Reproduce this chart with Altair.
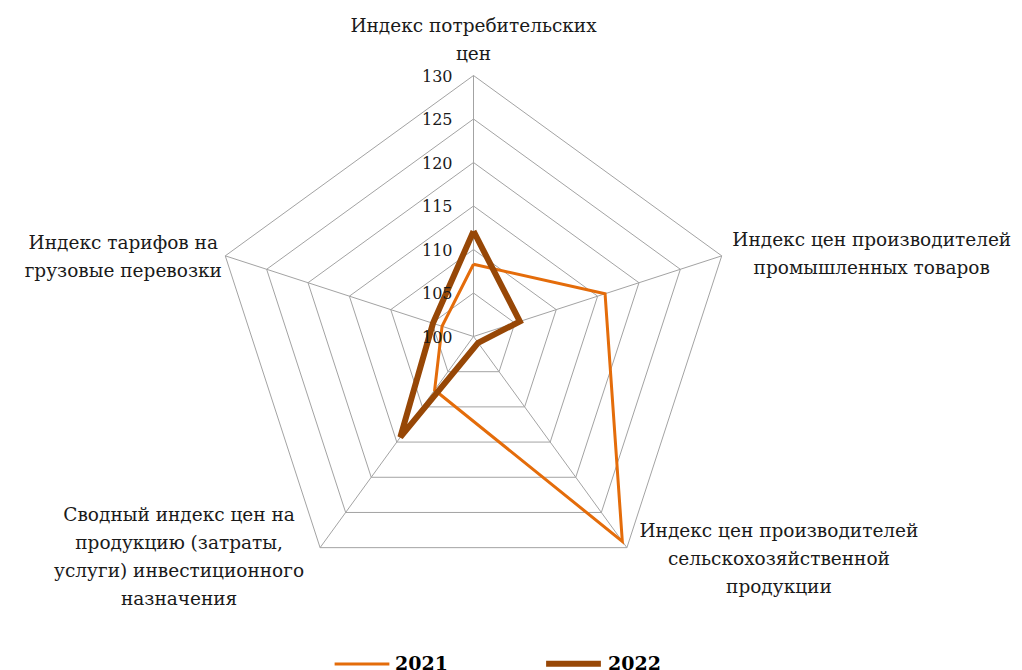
import altair as alt
import pandas as pd

# ---- data ----
categories = [
    "Индекс потребительских\nцен",
    "Индекс цен производителей\nпромышленных товаров",
    "Индекс цен производителей\nсельскохозяйственной\nпродукции",
    "Сводный индекс цен на\nпродукцию (затраты,\nуслуги) инвестиционного\nназначения",
    "Индекс тарифов на\nгрузовые перевозки",
]
years = ["2021", "2022"]
values_2021 = [108.3, 115.9, 129.1, 107.6, 103.8]
values_2022 = [112.1, 105.6, 100.9, 114.3, 104.9]
tick_levels = [100, 105, 110, 115, 120, 125, 130]

BASE = 100
TOP = 130
N = len(categories)

# ---- styling ----
ORANGE = "#E46C0A"
BROWN = "#974706"
GRID = "#A3A3A3"
TEXT = "#1A1A1A"
FONT = "DejaVu Serif"
# label offsets (px) from each outer vertex to the first line of each label
label_dx = [0, 150, 152, -141, -102]
label_dy = [-50, -16, -17, -33, -13]

W, H = 1006, 662
PX = 8.7  # pixels per index unit
CX, CY = 465.5, 328.5
xscale = alt.Scale(domain=[-CX / PX, (W - CX) / PX], nice=False, zero=False)
yscale = alt.Scale(domain=[-(H - CY) / PX, CY / PX], nice=False, zero=False)

ang = "datum.idx * 2 * PI / %d" % N

# series
rows = []
for yr, vals in zip(years, [values_2021, values_2022]):
    for i in range(N + 1):
        rows.append({"year": yr, "idx": i % N, "ord": i, "value": vals[i % N]})
series_df = pd.DataFrame(rows)

# grid rings
ring_rows = []
for lv in tick_levels[1:]:
    for i in range(N + 1):
        ring_rows.append({"level": lv, "idx": i % N, "ord": i})
ring_df = pd.DataFrame(ring_rows)

spoke_df = pd.DataFrame({"idx": list(range(N)), "level": [TOP] * N})
tick_df = pd.DataFrame({"level": tick_levels})
label_df = pd.DataFrame({"idx": list(range(N)), "cat": categories, "level": [TOP] * N})


def xy(chart, field):
    return chart.transform_calculate(
        px="(datum.%s - %d) * sin(%s)" % (field, BASE, ang),
        py="(datum.%s - %d) * cos(%s)" % (field, BASE, ang),
    )


X = lambda f: alt.X(f, type="quantitative", scale=xscale, axis=None)
Y = lambda f: alt.Y(f, type="quantitative", scale=yscale, axis=None)

rings = xy(alt.Chart(ring_df), "level").mark_line(
    color=GRID, strokeWidth=1
).encode(x=X("px"), y=Y("py"), detail="level:N", order="ord:Q")

spokes = xy(alt.Chart(spoke_df), "level").transform_calculate(
    zx="0", zy="0"
).mark_rule(color=GRID, strokeWidth=1).encode(
    x=X("zx"), y=Y("zy"), x2="px:Q", y2="py:Q"
)

ticks = alt.Chart(tick_df).transform_calculate(
    zx="0", ty="datum.level - %d" % BASE
).mark_text(
    align="right", baseline="middle", dx=-21, dy=1, font=FONT, fontSize=16, color=TEXT
).encode(x=X("zx"), y=Y("ty"), text="level:Q")

lines = xy(alt.Chart(series_df), "value").mark_line(strokeJoin="miter").encode(
    x=X("px"),
    y=Y("py"),
    order="ord:Q",
    color=alt.Color(
        "year:O",
        scale=alt.Scale(domain=years, range=[ORANGE, BROWN]),
        legend=alt.Legend(
            title=None,
            orient="none",
            legendX=325,
            legendY=625,
            direction="horizontal",
            symbolType="stroke",
            symbolSize=3000,
            labelFont=FONT,
            labelFontSize=19,
            labelFontWeight="bold",
            labelColor="#000000",
            labelOffset=4,
            columnPadding=86,
        ),
    ),
    strokeWidth=alt.StrokeWidth(
        "year:O", scale=alt.Scale(domain=years, range=[3, 6])
    ),
)

label_layers = []
for i in range(N):
    label_layers.append(
        xy(alt.Chart(label_df).transform_filter("datum.idx == %d" % i), "level")
        .mark_text(
            align="center",
            baseline="middle",
            lineBreak="\n",
            lineHeight=28,
            dx=label_dx[i],
            dy=label_dy[i],
            font=FONT,
            fontSize=18.5,
            color=TEXT,
        )
        .encode(x=X("px"), y=Y("py"), text="cat:N")
    )

chart = alt.layer(rings, spokes, lines, ticks, *label_layers).properties(
    width=W,
    height=H,
    autosize=alt.AutoSizeParams(type="none"),
    padding=0,
    background="white",
).configure_view(stroke=None)

chart.save("out.html", embed_options={"renderer": "svg", "actions": False})
